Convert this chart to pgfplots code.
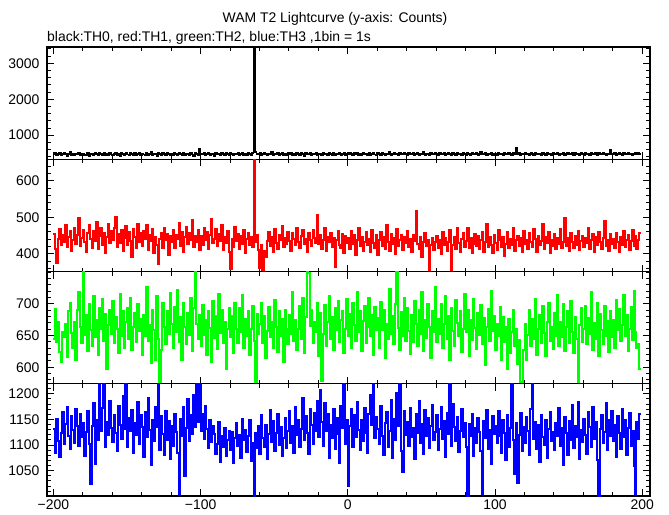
\documentclass[border=0pt]{standalone}
\usepackage{pgfplots}
\pgfplotsset{compat=1.18}
\usepackage{pgfplotstable}
\usepackage{fontspec}
\setmainfont{Liberation Sans}

% TH0 counts, 1 s bins, x = -200 ... 199
\pgfplotstableread[row sep=\\]{
v\\
462\\ 494\\ 440\\ 480\\ 517\\ 450\\ 472\\ 507\\ 467\\ 430\\ 487\\ 524\\ 457\\ 477\\ 445\\ 492\\ 470\\ 509\\ 437\\ 482\\
490\\ 447\\ 458\\ 512\\ 425\\ 468\\ 485\\ 441\\ 503\\ 475\\ 452\\ 498\\ 466\\ 436\\ 515\\ 455\\ 481\\ 444\\ 504\\ 463\\
439\\ 483\\ 510\\ 453\\ 476\\ 428\\ 497\\ 486\\ 449\\ 519\\ 461\\ 434\\ 501\\ 470\\ 455\\ 495\\ 443\\ 478\\ 511\\ 451\\
488\\ 465\\ 432\\ 506\\ 459\\ 479\\ 521\\ 446\\ 473\\ 493\\ 427\\ 508\\ 476\\ 450\\ 499\\ 466\\ 438\\ 514\\ 480\\ 456\\
484\\ 448\\ 505\\ 468\\ 434\\ 497\\ 471\\ 457\\ 516\\ 442\\ 489\\ 478\\ 452\\ 503\\ 463\\ 429\\ 512\\ 474\\ 451\\ 610\\
487\\ 466\\ 500\\ 440\\ 478\\ 514\\ 454\\ 471\\ 492\\ 431\\ 506\\ 460\\ 483\\ 447\\ 520\\ 468\\ 457\\ 497\\ 476\\ 437\\
510\\ 475\\ 452\\ 489\\ 467\\ 503\\ 443\\ 481\\ 518\\ 458\\ 477\\ 435\\ 500\\ 469\\ 454\\ 513\\ 3900\\ 540\\ 486\\ 462\\
494\\ 446\\ 479\\ 507\\ 466\\ 433\\ 490\\ 473\\ 522\\ 450\\ 484\\ 461\\ 502\\ 441\\ 475\\ 515\\ 457\\ 482\\ 445\\ 497\\
467\\ 505\\ 449\\ 485\\ 436\\ 512\\ 474\\ 455\\ 494\\ 470\\ 431\\ 517\\ 479\\ 460\\ 500\\ 443\\ 482\\ 468\\ 510\\ 452\\
477\\ 491\\ 442\\ 508\\ 463\\ 485\\ 447\\ 520\\ 472\\ 454\\ 503\\ 434\\ 490\\ 474\\ 513\\ 457\\ 480\\ 497\\ 439\\ 487\\
463\\ 510\\ 470\\ 447\\ 494\\ 482\\ 517\\ 452\\ 476\\ 437\\ 507\\ 468\\ 487\\ 458\\ 500\\ 445\\ 479\\ 514\\ 465\\ 449\\
497\\ 474\\ 435\\ 513\\ 482\\ 455\\ 490\\ 468\\ 525\\ 443\\ 479\\ 502\\ 462\\ 484\\ 439\\ 508\\ 470\\ 460\\ 494\\ 477\\
446\\ 515\\ 482\\ 467\\ 497\\ 437\\ 477\\ 510\\ 455\\ 487\\ 469\\ 522\\ 452\\ 492\\ 474\\ 442\\ 505\\ 461\\ 482\\ 500\\
469\\ 451\\ 512\\ 480\\ 460\\ 494\\ 439\\ 484\\ 517\\ 472\\ 455\\ 502\\ 477\\ 437\\ 510\\ 467\\ 490\\ 448\\ 497\\ 480\\
457\\ 502\\ 470\\ 442\\ 515\\ 482\\ 467\\ 497\\ 452\\ 487\\ 524\\ 462\\ 477\\ 507\\ 445\\ 485\\ 469\\ 512\\ 450\\ 492\\
474\\ 455\\ 504\\ 468\\ 487\\ 440\\ 520\\ 477\\ 460\\ 497\\ 480\\ 447\\ 510\\ 467\\ 660\\ 482\\ 494\\ 452\\ 489\\ 472\\
512\\ 462\\ 484\\ 445\\ 502\\ 474\\ 455\\ 517\\ 480\\ 469\\ 492\\ 435\\ 507\\ 477\\ 457\\ 500\\ 467\\ 487\\ 442\\ 515\\
482\\ 472\\ 502\\ 452\\ 489\\ 467\\ 519\\ 447\\ 484\\ 507\\ 460\\ 477\\ 497\\ 437\\ 510\\ 470\\ 482\\ 455\\ 500\\ 479\\
442\\ 512\\ 474\\ 489\\ 457\\ 505\\ 467\\ 482\\ 517\\ 450\\ 494\\ 472\\ 460\\ 507\\ 480\\ 435\\ 492\\ 470\\ 580\\ 484\\
467\\ 500\\ 455\\ 487\\ 514\\ 472\\ 444\\ 502\\ 479\\ 464\\ 510\\ 474\\ 492\\ 450\\ 482\\ 520\\ 460\\ 497\\ 477\\ 477\\
}\thzero

% TH1
\pgfplotstableread[row sep=\\]{
v\\
455\\ 412\\ 375\\ 440\\ 468\\ 425\\ 451\\ 433\\ 478\\ 418\\ 446\\ 462\\ 407\\ 439\\ 470\\ 428\\ 452\\ 497\\ 421\\ 444\\
466\\ 431\\ 405\\ 458\\ 479\\ 440\\ 417\\ 463\\ 436\\ 488\\ 412\\ 449\\ 470\\ 423\\ 457\\ 401\\ 445\\ 481\\ 429\\ 462\\
438\\ 472\\ 502\\ 419\\ 453\\ 430\\ 466\\ 408\\ 444\\ 477\\ 425\\ 459\\ 436\\ 391\\ 468\\ 447\\ 415\\ 482\\ 433\\ 456\\
421\\ 463\\ 440\\ 479\\ 410\\ 452\\ 434\\ 469\\ 403\\ 447\\ 425\\ 372\\ 441\\ 458\\ 416\\ 470\\ 437\\ 455\\ 398\\ 449\\
432\\ 466\\ 415\\ 451\\ 440\\ 484\\ 422\\ 459\\ 404\\ 445\\ 473\\ 428\\ 456\\ 437\\ 492\\ 419\\ 450\\ 431\\ 465\\ 411\\
448\\ 425\\ 471\\ 438\\ 460\\ 413\\ 452\\ 496\\ 429\\ 441\\ 467\\ 420\\ 455\\ 436\\ 478\\ 410\\ 446\\ 430\\ 463\\ 405\\
357\\ 441\\ 419\\ 473\\ 436\\ 455\\ 412\\ 448\\ 427\\ 464\\ 401\\ 440\\ 458\\ 424\\ 446\\ 418\\ 680\\ 433\\ 452\\ 410\\
362\\ 425\\ 355\\ 408\\ 390\\ 436\\ 459\\ 421\\ 447\\ 405\\ 468\\ 430\\ 414\\ 452\\ 438\\ 475\\ 419\\ 444\\ 427\\ 461\\
435\\ 409\\ 456\\ 440\\ 423\\ 471\\ 432\\ 416\\ 449\\ 464\\ 426\\ 441\\ 405\\ 458\\ 437\\ 420\\ 466\\ 443\\ 429\\ 507\\
426\\ 451\\ 413\\ 439\\ 470\\ 408\\ 446\\ 432\\ 458\\ 419\\ 443\\ 365\\ 437\\ 462\\ 424\\ 417\\ 455\\ 401\\ 448\\ 430\\
444\\ 413\\ 462\\ 428\\ 451\\ 397\\ 438\\ 472\\ 420\\ 446\\ 409\\ 433\\ 459\\ 425\\ 441\\ 404\\ 465\\ 430\\ 417\\ 452\\
396\\ 437\\ 461\\ 422\\ 446\\ 412\\ 480\\ 431\\ 407\\ 455\\ 426\\ 443\\ 399\\ 468\\ 420\\ 438\\ 452\\ 411\\ 447\\ 429\\
463\\ 418\\ 441\\ 405\\ 452\\ 436\\ 516\\ 428\\ 414\\ 447\\ 391\\ 433\\ 458\\ 420\\ 439\\ 352\\ 425\\ 444\\ 410\\ 431\\
448\\ 416\\ 437\\ 400\\ 459\\ 425\\ 442\\ 409\\ 431\\ 464\\ 352\\ 423\\ 446\\ 412\\ 472\\ 430\\ 405\\ 441\\ 458\\ 419\\
436\\ 470\\ 415\\ 443\\ 401\\ 428\\ 455\\ 420\\ 449\\ 412\\ 437\\ 461\\ 406\\ 432\\ 483\\ 418\\ 445\\ 424\\ 402\\ 452\\
430\\ 411\\ 466\\ 438\\ 419\\ 447\\ 394\\ 428\\ 459\\ 416\\ 441\\ 425\\ 471\\ 409\\ 437\\ 450\\ 420\\ 443\\ 404\\ 462\\
427\\ 439\\ 412\\ 456\\ 433\\ 418\\ 467\\ 441\\ 405\\ 450\\ 424\\ 436\\ 481\\ 414\\ 445\\ 429\\ 461\\ 403\\ 438\\ 420\\
453\\ 412\\ 444\\ 426\\ 469\\ 417\\ 433\\ 498\\ 421\\ 442\\ 408\\ 457\\ 431\\ 415\\ 448\\ 425\\ 462\\ 411\\ 436\\ 450\\
419\\ 443\\ 429\\ 472\\ 414\\ 438\\ 455\\ 406\\ 447\\ 423\\ 460\\ 431\\ 412\\ 444\\ 490\\ 420\\ 437\\ 409\\ 453\\ 428\\
441\\ 416\\ 458\\ 432\\ 405\\ 446\\ 424\\ 463\\ 418\\ 439\\ 451\\ 410\\ 435\\ 466\\ 422\\ 448\\ 413\\ 437\\ 456\\ 456\\
}\thone

% TH2
\pgfplotstableread[row sep=\\]{
v\\
645\\ 692\\ 640\\ 672\\ 624\\ 609\\ 655\\ 648\\ 668\\ 616\\ 689\\ 702\\ 654\\ 630\\ 671\\ 612\\ 690\\ 719\\ 663\\ 638\\
752\\ 651\\ 682\\ 626\\ 700\\ 659\\ 634\\ 712\\ 648\\ 675\\ 619\\ 693\\ 661\\ 707\\ 641\\ 684\\ 598\\ 666\\ 690\\ 653\\
705\\ 638\\ 680\\ 660\\ 622\\ 716\\ 650\\ 688\\ 631\\ 672\\ 694\\ 645\\ 709\\ 627\\ 664\\ 686\\ 640\\ 699\\ 657\\ 676\\
620\\ 683\\ 650\\ 727\\ 642\\ 667\\ 606\\ 691\\ 659\\ 612\\ 712\\ 645\\ 574\\ 628\\ 701\\ 663\\ 636\\ 689\\ 652\\ 717\\
668\\ 631\\ 695\\ 656\\ 722\\ 640\\ 679\\ 612\\ 701\\ 664\\ 637\\ 685\\ 651\\ 709\\ 626\\ 693\\ 752\\ 668\\ 645\\ 682\\
633\\ 698\\ 651\\ 675\\ 620\\ 688\\ 662\\ 609\\ 704\\ 646\\ 681\\ 629\\ 716\\ 654\\ 690\\ 638\\ 672\\ 597\\ 660\\ 694\\
647\\ 681\\ 623\\ 702\\ 660\\ 638\\ 693\\ 655\\ 714\\ 630\\ 676\\ 649\\ 688\\ 620\\ 661\\ 697\\ 642\\ 575\\ 684\\ 652\\
668\\ 702\\ 639\\ 681\\ 615\\ 657\\ 695\\ 647\\ 672\\ 631\\ 706\\ 663\\ 624\\ 689\\ 650\\ 676\\ 608\\ 691\\ 660\\ 637\\
683\\ 652\\ 718\\ 641\\ 675\\ 628\\ 661\\ 697\\ 644\\ 710\\ 623\\ 679\\ 752\\ 748\\ 665\\ 690\\ 639\\ 672\\ 655\\ 701\\
618\\ 686\\ 578\\ 652\\ 698\\ 634\\ 671\\ 712\\ 645\\ 680\\ 627\\ 693\\ 659\\ 705\\ 640\\ 674\\ 689\\ 622\\ 661\\ 707\\
650\\ 684\\ 631\\ 701\\ 667\\ 642\\ 719\\ 655\\ 688\\ 626\\ 673\\ 697\\ 638\\ 664\\ 710\\ 649\\ 682\\ 620\\ 695\\ 658\\
677\\ 631\\ 703\\ 659\\ 690\\ 615\\ 668\\ 645\\ 724\\ 652\\ 681\\ 636\\ 699\\ 752\\ 662\\ 628\\ 687\\ 650\\ 710\\ 641\\
694\\ 657\\ 621\\ 682\\ 640\\ 705\\ 669\\ 633\\ 691\\ 652\\ 718\\ 626\\ 674\\ 646\\ 700\\ 663\\ 615\\ 688\\ 655\\ 727\\
640\\ 676\\ 652\\ 699\\ 630\\ 668\\ 713\\ 645\\ 681\\ 612\\ 694\\ 657\\ 633\\ 706\\ 670\\ 649\\ 688\\ 624\\ 661\\ 716\\
655\\ 690\\ 618\\ 674\\ 643\\ 707\\ 662\\ 629\\ 685\\ 651\\ 698\\ 636\\ 677\\ 604\\ 664\\ 692\\ 642\\ 720\\ 657\\ 681\\
627\\ 668\\ 649\\ 695\\ 611\\ 680\\ 640\\ 663\\ 598\\ 676\\ 622\\ 655\\ 690\\ 634\\ 661\\ 605\\ 643\\ 577\\ 574\\ 628\\
669\\ 612\\ 651\\ 690\\ 633\\ 676\\ 645\\ 708\\ 620\\ 661\\ 683\\ 639\\ 697\\ 654\\ 617\\ 672\\ 701\\ 641\\ 664\\ 629\\
686\\ 650\\ 714\\ 633\\ 671\\ 647\\ 699\\ 626\\ 663\\ 688\\ 638\\ 705\\ 656\\ 622\\ 679\\ 644\\ 575\\ 667\\ 693\\ 640\\
661\\ 697\\ 636\\ 678\\ 652\\ 719\\ 628\\ 670\\ 645\\ 702\\ 617\\ 684\\ 659\\ 636\\ 696\\ 650\\ 673\\ 624\\ 689\\ 648\\
675\\ 630\\ 706\\ 658\\ 692\\ 641\\ 667\\ 714\\ 649\\ 682\\ 626\\ 661\\ 695\\ 643\\ 720\\ 656\\ 631\\ 637\\ 598\\ 598\\
}\thtwo

% TH3
\pgfplotstableread[row sep=\\]{
v\\
1132\\ 1085\\ 1150\\ 1108\\ 1076\\ 1124\\ 1165\\ 1102\\ 1141\\ 1175\\ 1118\\ 1093\\ 1156\\ 1129\\ 1104\\ 1170\\ 1137\\ 1098\\ 1160\\ 1115\\
1143\\ 1079\\ 1125\\ 1167\\ 1101\\ 1024\\ 1138\\ 1182\\ 1062\\ 1149\\ 1110\\ 1219\\ 1128\\ 1172\\ 1219\\ 1097\\ 1145\\ 1119\\ 1186\\ 1133\\
1106\\ 1158\\ 1124\\ 1089\\ 1177\\ 1140\\ 1112\\ 1195\\ 1131\\ 1219\\ 1096\\ 1153\\ 1127\\ 1168\\ 1085\\ 1142\\ 1120\\ 1183\\ 1101\\ 1159\\
1136\\ 1077\\ 1164\\ 1115\\ 1192\\ 1129\\ 1061\\ 1148\\ 1107\\ 1174\\ 1135\\ 1219\\ 1090\\ 1156\\ 1122\\ 1081\\ 1167\\ 1110\\ 1146\\ 1072\\
1138\\ 1099\\ 1161\\ 1126\\ 1085\\ 1005\\ 1150\\ 1117\\ 1175\\ 1040\\ 1133\\ 1189\\ 1108\\ 1158\\ 1121\\ 1197\\ 1136\\ 1219\\ 1144\\ 1219\\
1128\\ 1160\\ 1112\\ 1176\\ 1131\\ 1094\\ 1149\\ 1106\\ 1138\\ 1121\\ 1083\\ 1102\\ 1145\\ 1067\\ 1118\\ 1096\\ 1134\\ 1079\\ 1110\\ 1127\\
1091\\ 1126\\ 1064\\ 1113\\ 1142\\ 1098\\ 1120\\ 1075\\ 1151\\ 1109\\ 1130\\ 1086\\ 1117\\ 1148\\ 1069\\ 1103\\ 1000\\ 1124\\ 1095\\ 1137\\
1082\\ 1158\\ 1114\\ 1097\\ 1139\\ 1072\\ 1121\\ 1168\\ 1105\\ 1146\\ 1088\\ 1123\\ 1161\\ 1100\\ 1135\\ 1078\\ 1113\\ 1152\\ 1094\\ 1127\\
1166\\ 1104\\ 1138\\ 1085\\ 1175\\ 1119\\ 1148\\ 1096\\ 1131\\ 1192\\ 1110\\ 1157\\ 1123\\ 1083\\ 1171\\ 1140\\ 1102\\ 1163\\ 1128\\ 1185\\
1116\\ 1208\\ 1144\\ 1099\\ 1181\\ 1127\\ 1160\\ 1075\\ 1139\\ 1113\\ 1170\\ 1093\\ 1152\\ 1121\\ 1064\\ 1176\\ 1134\\ 1219\\ 1102\\ 1148\\
1020\\ 1137\\ 1170\\ 1096\\ 1158\\ 1115\\ 1184\\ 1129\\ 1090\\ 1149\\ 1107\\ 1172\\ 1124\\ 1085\\ 1161\\ 1198\\ 1140\\ 1219\\ 1113\\ 1155\\
1132\\ 1101\\ 1176\\ 1118\\ 1080\\ 1143\\ 1164\\ 1097\\ 1127\\ 1188\\ 1074\\ 1151\\ 1110\\ 1202\\ 1138\\ 1219\\ 1089\\ 1047\\ 1166\\ 1120\\
1145\\ 1098\\ 1172\\ 1115\\ 1133\\ 1072\\ 1160\\ 1124\\ 1186\\ 1104\\ 1141\\ 1083\\ 1169\\ 1117\\ 1153\\ 1094\\ 1137\\ 1178\\ 1109\\ 1125\\
1158\\ 1090\\ 1131\\ 1174\\ 1112\\ 1146\\ 1077\\ 1163\\ 1121\\ 1219\\ 1099\\ 1180\\ 1136\\ 1108\\ 1155\\ 1086\\ 1128\\ 1170\\ 1115\\ 1143\\
1096\\ 1000\\ 1141\\ 1118\\ 1160\\ 1079\\ 1133\\ 1104\\ 1152\\ 1125\\ 1088\\ 1005\\ 1147\\ 1114\\ 1169\\ 1092\\ 1130\\ 1063\\ 1156\\ 1121\\
1138\\ 1103\\ 1166\\ 1117\\ 1085\\ 1149\\ 1124\\ 1071\\ 1158\\ 1096\\ 1134\\ 1219\\ 1110\\ 1044\\ 1143\\ 1026\\ 1120\\ 1162\\ 1088\\ 1136\\
1103\\ 1154\\ 1127\\ 1081\\ 1170\\ 1219\\ 1112\\ 1145\\ 1093\\ 1139\\ 1067\\ 1158\\ 1116\\ 1100\\ 1149\\ 1075\\ 1131\\ 1164\\ 1107\\ 1126\\
1090\\ 1143\\ 1118\\ 1172\\ 1099\\ 1134\\ 1061\\ 1155\\ 1123\\ 1081\\ 1147\\ 1110\\ 1178\\ 1095\\ 1137\\ 1116\\ 1184\\ 1073\\ 1129\\ 1106\\
1151\\ 1120\\ 1083\\ 1165\\ 1136\\ 1097\\ 1174\\ 1112\\ 1144\\ 1070\\ 1000\\ 1132\\ 1159\\ 1103\\ 1126\\ 1181\\ 1091\\ 1148\\ 1118\\ 1167\\
1108\\ 1139\\ 1076\\ 1157\\ 1124\\ 1092\\ 1171\\ 1115\\ 1148\\ 1080\\ 1133\\ 1162\\ 1099\\ 1127\\ 1060\\ 1005\\ 1145\\ 1112\\ 1160\\ 1160\\
}\ththree

\pgfplotsset{
  panel/.style={
    scale only axis, width=603bp, height=112.25bp,
    anchor=north west,
    xmin=-204.3, xmax=205.2,
    axis line style={line width=1.3pt},
    every tick/.style={black, line width=1pt},
    major tick length=7bp, minor tick length=4bp,
    tick align=inside,
    xtick={-200,-100,0,100,200},
    minor xtick={-180,-160,-140,-120,-80,-60,-40,-20,20,40,60,80,120,140,160,180},
    xticklabels={},
    ticklabel style={font=\fontsize{14}{16}\selectfont},
    yticklabel style={xshift=-4bp},
    /pgf/number format/assume math mode=true,
    /pgf/number format/1000 sep={},
    scaled y ticks=false,
  },
}

\begin{document}
\begin{tikzpicture}
\useasboundingbox (0bp,0bp) rectangle (669bp,-515bp);
\node[anchor=base, inner sep=0pt, font=\fontsize{14}{16}\selectfont] at (335bp,-22bp) {WAM T2 Lightcurve (y-axis: Counts)};
\node[anchor=base west, inner sep=0pt, font=\fontsize{14}{16}\selectfont] at (47bp,-41bp) {black:TH0, red:TH1, green:TH2, blue:TH3 ,1bin = 1s};

\begin{axis}[panel, at={(47bp,-47bp)},
  ymin=330, ymax=3455,
  ytick={1000,2000,3000},
  minor ytick={400,600,800,1200,1400,1600,1800,2200,2400,2600,2800,3200,3400}]
\addplot[const plot, black, line width=1.8pt] table[x expr=\coordindex-200, y=v] {\thzero};
\end{axis}

\begin{axis}[panel, at={(47bp,-159.25bp)},
  ymin=351.5, ymax=659,
  ytick={400,500,600},
  minor ytick={360,380,420,440,460,480,520,540,560,580,620,640}]
\addplot[const plot, red, line width=2pt] table[x expr=\coordindex-200, y=v] {\thone};
\end{axis}

\begin{axis}[panel, at={(47bp,-271.5bp)},
  ymin=574, ymax=751,
  ytick={600,650,700},
  minor ytick={580,590,610,620,630,640,660,670,680,690,710,720,730,740,750}]
\addplot[const plot, green, line width=2pt] table[x expr=\coordindex-200, y=v] {\thtwo};
\end{axis}

\begin{axis}[panel, at={(47bp,-383.75bp)},
  ymin=1000.5, ymax=1219.5,
  ytick={1050,1100,1150,1200},
  minor ytick={1010,1020,1030,1040,1060,1070,1080,1090,1110,1120,1130,1140,1160,1170,1180,1190,1210},
  xticklabels={−200,−100,0,100,200}]
\addplot[const plot, blue, line width=2pt] table[x expr=\coordindex-200, y=v] {\ththree};
\end{axis}
\end{tikzpicture}
\end{document}
